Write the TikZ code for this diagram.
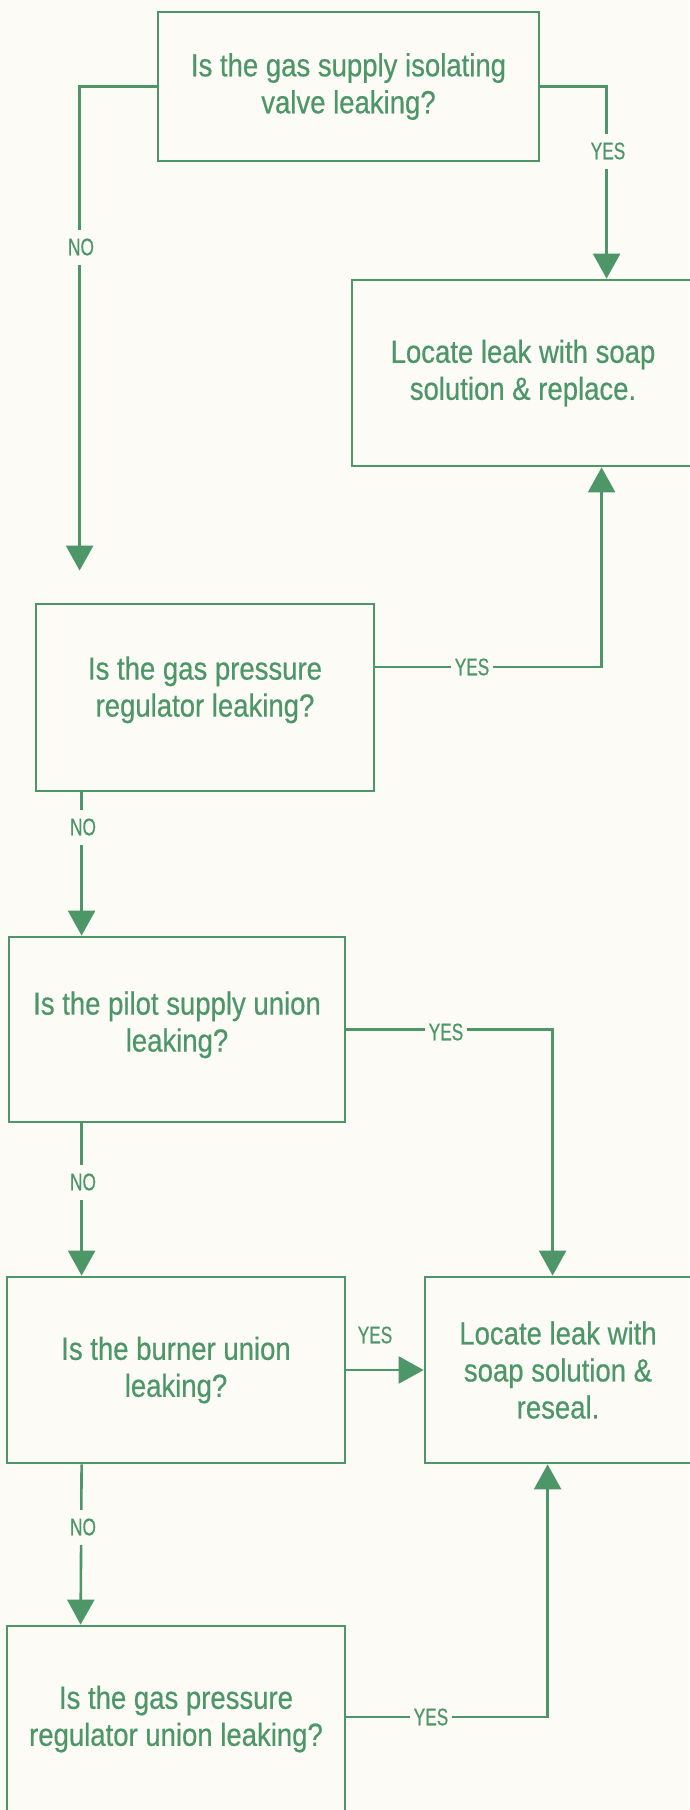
\documentclass[tikz,border=0pt]{standalone}
\usepackage{fontspec}
\setmainfont{Liberation Sans}[FakeStretch=0.86,FakeBold=0.5]
\newfontfamily\tagfont{Liberation Sans}[FakeStretch=0.72,FakeBold=0.4]
\usetikzlibrary{arrows.meta,calc}
\definecolor{ink}{RGB}{76,150,104}
\definecolor{paper}{RGB}{252,251,245}
\tikzset{
  box/.style={draw=ink, line width=2.8pt, rectangle, align=center, text=ink,
    font=\fontsize{32}{37}\selectfont, inner sep=0pt},
  conn/.style={draw=ink, line width=2.6pt, -{Triangle[length=25pt,width=27pt]}},
  tagv/.style={fill=paper, text=ink, font=\tagfont\fontsize{24}{26}\selectfont,
    inner xsep=2pt, inner ysep=9pt},
  tagh/.style={fill=paper, text=ink, font=\tagfont\fontsize{24}{26}\selectfont,
    inner xsep=4pt, inner ysep=2pt},
  tagfree/.style={text=ink, font=\tagfont\fontsize{24}{26}\selectfont, inner sep=0pt},
}
\begin{document}
\begin{tikzpicture}[x=1pt,y=-1pt]
\fill[paper] (0,0) rectangle (689,1810);
\useasboundingbox (0,0) rectangle (689,1810);

% question and action boxes
\node[box, minimum width=381pt, minimum height=149pt] (q1) at (348.5,86.5)
  {Is the gas supply isolating\\valve leaking?};
\node[box, minimum width=342pt, minimum height=186pt] (a1) at (523,373)
  {Locate leak with soap\\solution \& replace.};
\node[box, minimum width=338pt, minimum height=187pt, text depth=22pt] (q2) at (205,697.5)
  {Is the gas pressure\\regulator leaking?};
\node[box, minimum width=336pt, minimum height=185pt, text depth=16pt] (q3) at (177,1029.5)
  {Is the pilot supply union\\leaking?};
\node[box, minimum width=338pt, minimum height=186pt] (q4) at (176,1370)
  {Is the burner union\\leaking?};
\node[box, minimum width=266pt, minimum height=186pt] (a2) at (558,1370)
  {Locate leak with\\soap solution \&\\reseal.};
\node[box, minimum width=338pt, minimum height=186pt] (q5) at (176,1719)
  {Is the gas pressure\\regulator union leaking?};

% free end of the first NO arrow, above the second question
\coordinate (n1) at ($(q2.north west)+(45,-32)$);

% connectors
\draw[conn] (q1.west) -| (n1);
\draw[conn] (q1.east) -| ($(a1.north west)+(256,0)$);
\draw[conn] ($(q2.east)+(0,-30.5)$) -| ($(a1.south west)+(251,0)$);
\draw[conn] ($(q2.south west)+(47,0)$) -- ($(q3.north west)+(74,0)$);
\draw[conn] (q3.east) -| ($(a2.north west)+(129,0)$);
\draw[conn] ($(q3.south west)+(74,0)$) -- ($(q4.north west)+(76,0)$);
\draw[conn] (q4.east) -- (a2.west);
\draw[conn] ($(q4.south west)+(76,0)$) -- ($(q5.north west)+(75,0)$);
\draw[conn] ($(q5.east)+(0,-2)$) -| ($(a2.south west)+(124,0)$);

% branch labels
\node[tagv] (no1) at (81,247) {NO};
\node[tagv] (yes1) at (608,151) {YES};
\node[tagh] (yes2) at (472,667) {YES};
\node[tagv] (no2) at (83,827) {NO};
\node[tagh] (yes3) at (446,1032) {YES};
\node[tagv] (no3) at (83,1182) {NO};
\node[tagfree] (yes4) at (375,1335) {YES};
\node[tagv] (no4) at (83,1527) {NO};
\node[tagh] (yes5) at (431,1717) {YES};
\end{tikzpicture}
\end{document}
